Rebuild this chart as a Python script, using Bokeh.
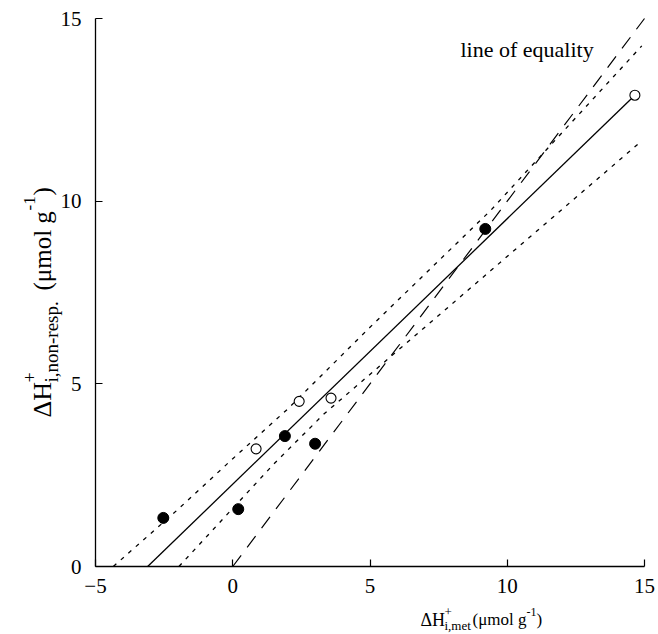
import numpy as np
from bokeh.plotting import figure
from bokeh.models import Range1d, Label, FixedTicker
from bokeh.embed import file_html
from bokeh.resources import INLINE

# ---- data ----
filled_x = [-2.53, 0.2, 1.9, 3.0, 9.2]
filled_y = [1.33, 1.57, 3.57, 3.36, 9.24]
open_x = [0.85, 2.42, 3.58, 14.65]
open_y = [3.22, 4.52, 4.61, 12.9]
fit_x = [-3.1, 14.65]
fit_y = [0.0, 12.9]
upper_x = [-4.35, -2.0, 0.0, 2.0, 5.0, 9.4, 14.9]
upper_y = [0.0, 1.56, 2.95, 4.31, 6.55, 9.75, 14.25]
lower_x = [-1.96, 1.5, 3.33, 9.4, 14.9]
lower_y = [0.0, 2.81, 4.18, 8.10, 11.65]
equal_x = [0.0, 15.0]
equal_y = [0.0, 15.0]
x_ticks = [-5, 0, 5, 10, 15]
y_ticks = [0, 5, 10, 15]

FONT = "Liberation Serif"

W, H = 658, 634
# where the axes' ends sit on the page (pixels)
L, R, T, B = 95, 644, 18, 566
X0, X1, Y0, Y1 = -5, 15, 0, 15
kx = (X1 - X0) / (R - L)
ky = (Y1 - Y0) / (B - T)

p = figure(width=W, height=H,
           x_range=Range1d(X0 - L * kx, X1 + (W - R) * kx),
           y_range=Range1d(Y0 - (H - B) * ky, Y1 + T * ky),
           output_backend="svg", toolbar_location=None,
           min_border_left=0, min_border_right=0, min_border_top=0, min_border_bottom=0)
p.outline_line_color = None
p.grid.visible = False
p.background_fill_color = "white"
p.border_fill_color = "white"

p.xaxis.fixed_location = Y0
p.xaxis.bounds = (X0, X1)
p.yaxis.fixed_location = X0
p.yaxis.bounds = (Y0, Y1)

for ax, ticks in ((p.xaxis, x_ticks), (p.yaxis, y_ticks)):
    ax.ticker = FixedTicker(ticks=ticks)
    ax.major_tick_in = 7
    ax.major_tick_out = 0
    ax.minor_tick_line_color = None
    ax.axis_line_width = 1.3
    ax.major_tick_line_width = 1.2
    ax.axis_line_color = "black"
    ax.major_tick_line_color = "black"
    ax.major_label_text_font = FONT
    ax.major_label_text_font_size = "21px"
    ax.major_label_text_color = "black"
    ax.axis_label = None
p.xaxis.major_label_standoff = 12
p.yaxis.major_label_standoff = 14

# lines
p.line(equal_x, equal_y, line_color="black", line_width=1.2, line_dash="14 10")
p.line(upper_x, upper_y, line_color="black", line_width=1.3, line_dash="4 6")
p.line(lower_x, lower_y, line_color="black", line_width=1.3, line_dash="4 6")
p.line(fit_x, fit_y, line_color="black", line_width=1.3)

# points
p.scatter(filled_x, filled_y, size=11, fill_color="black", line_color="black")
p.scatter(open_x, open_y, size=10, fill_color="white", line_color="black", line_width=1.1)


def lab(text, sx, sy, size, angle=0.0):
    x = X0 + (sx - L) * kx
    y = Y0 + (B - sy) * ky
    p.add_layout(Label(x=x, y=y, text=text, text_font=FONT, text_font_size=f"{size}px",
                       text_color="black", text_align="left", text_baseline="alphabetic",
                       angle=angle))


# x axis label
lab("ΔH", 420, 619, 18)
lab("+", 444, 611, 13)
lab("i,met", 444, 625, 13)
lab("(μmol g", 472, 619, 17)
lab("-1", 526, 611, 12)
lab(")", 536, 619, 17)

# y axis label (rotated)
A = np.pi / 2
lab("ΔH", 42, 417, 26, A)
lab("+", 29, 382, 18, A)
lab("i,non-resp.", 51, 382, 19, A)
lab("(μmol g", 42, 290, 25, A)
lab("-1", 29, 210, 17, A)
lab(")", 42, 195, 25, A)

# annotation
lab("line of equality", 460, 49, 22)

open("out.html", "w").write(file_html(p, INLINE))
